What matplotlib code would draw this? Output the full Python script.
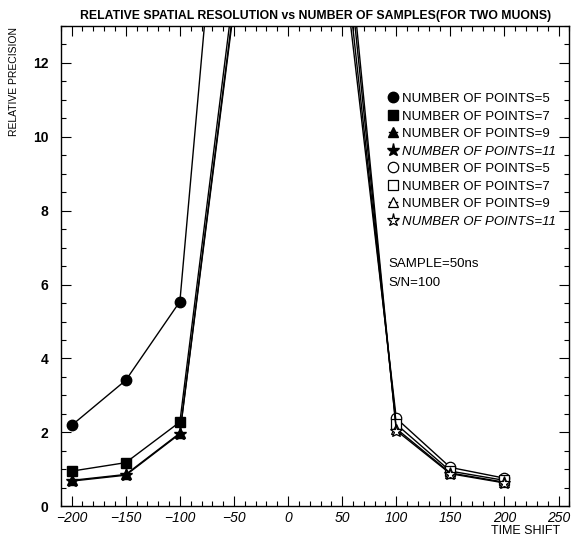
import matplotlib
matplotlib.use('Agg')
import matplotlib.pyplot as plt
from matplotlib.ticker import MultipleLocator

plt.rcParams['font.family'] = ['Liberation Sans', 'DejaVu Sans']

# === data ===
x_neg = [-200, -150, -100, -50]
x_pos = [50, 100, 150, 200]

# filled markers (negative shifts)
n5_neg = [2.19, 3.41, 5.54, 22.0]
n7_neg = [0.95, 1.18, 2.28, 14.0]
n9_neg = [0.70, 0.86, 1.98, 13.6]
n11_neg = [0.68, 0.84, 1.96, 13.5]

# open markers (positive shifts)
n5_pos = [15.0, 2.38, 1.05, 0.76]
n7_pos = [15.6, 2.22, 0.95, 0.70]
n9_pos = [16.4, 2.10, 0.90, 0.65]
n11_pos = [17.0, 2.05, 0.88, 0.63]

labels = ['NUMBER OF POINTS=5', 'NUMBER OF POINTS=7',
          'NUMBER OF POINTS=9', 'NUMBER OF POINTS=11']

fig = plt.figure(figsize=(5.74, 5.42), dpi=100)
ax = fig.add_axes([0.106, 0.066, 0.886, 0.886])

lw = 1.0
ms = 7.5
handles = []
for ys, m, lab in zip([n5_neg, n7_neg, n9_neg, n11_neg], ['o', 's', '^', '*'], labels):
    size = ms + 2 if m == '*' else ms
    h, = ax.plot(x_neg, ys, color='black', lw=lw, marker=m, ms=size,
                 mfc='black', mec='black', label=lab)
    handles.append(h)
for ys, m, lab in zip([n5_pos, n7_pos, n9_pos, n11_pos], ['o', 's', '^', '*'], labels):
    size = ms + 2 if m == '*' else ms
    h, = ax.plot(x_pos, ys, color='black', lw=lw, marker=m, ms=size,
                 mfc='white', mec='black', mew=0.9, label=lab)
    handles.append(h)

ax.set_xlim(-210, 260)
ax.set_ylim(0, 13)

ax.xaxis.set_major_locator(MultipleLocator(50))
ax.xaxis.set_minor_locator(MultipleLocator(10))
ax.yaxis.set_major_locator(MultipleLocator(2))
ax.yaxis.set_minor_locator(MultipleLocator(0.5))
ax.tick_params(which='both', direction='in', top=True, right=True,
               width=0.8, labelsize=10)
ax.tick_params(which='major', length=7)
ax.tick_params(which='minor', length=3.5)
ax.tick_params(axis='y', pad=9)
for t in ax.get_xticklabels():
    t.set_style('italic')
for t in ax.get_yticklabels():
    t.set_fontweight('bold')
for s in ax.spines.values():
    s.set_linewidth(1.0)

ax.set_title('RELATIVE SPATIAL RESOLUTION vs NUMBER OF SAMPLES(FOR TWO MUONS)',
             fontsize=8.8, fontweight='bold', pad=5)
fig.text(0.025, 0.85, 'RELATIVE PRECISION', rotation=90, fontsize=7.5,
         ha='center', va='center')
fig.text(0.975, 0.020, 'TIME SHIFT', fontsize=9, ha='right', va='center')

leg = ax.legend(handles=handles, loc='upper left', bbox_to_anchor=(0.635, 0.872),
                frameon=False, fontsize=9.5, handlelength=0.6, handletextpad=0.4,
                labelspacing=0.4, borderaxespad=0)
for t in leg.get_texts():
    if t.get_text().endswith('11'):
        t.set_style('italic')

ax.text(0.645, 0.505, 'SAMPLE=50ns', transform=ax.transAxes, fontsize=9.5,
        va='center')
ax.text(0.645, 0.465, 'S/N=100', transform=ax.transAxes, fontsize=9.5,
        va='center')

fig.savefig('out.png', dpi=100)
